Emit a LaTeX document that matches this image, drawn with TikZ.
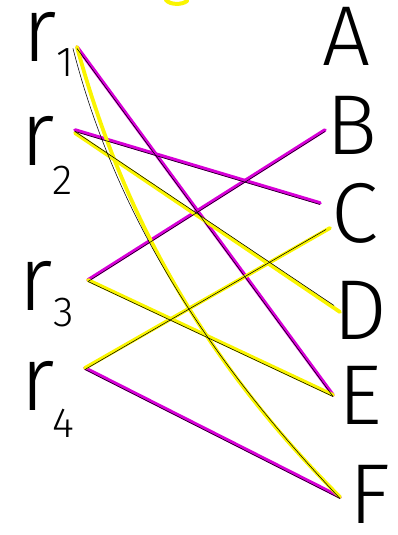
\documentclass[tikz,border=0pt]{standalone}
\usepackage{fontspec}
\usepackage{xcolor}
\usepackage{tikz}
\usetikzlibrary{positioning,calc}
\newfontfamily\handfont{Fira Sans Light}
\definecolor{mag}{RGB}{215,0,215}
\definecolor{yel}{RGB}{250,245,0}
\tikzset{
  lbl/.style={inner sep=0pt,font=\handfont\fontsize{92}{92}\selectfont,anchor=base west,
              text height=46pt,text depth=0pt},
  sublbl/.style={inner sep=0pt,font=\handfont\fontsize{42}{42}\selectfont,anchor=base west,
                 text height=29pt,text depth=0pt},
  caplbl/.style={inner sep=0pt,font=\handfont\fontsize{85}{85}\selectfont,
                 text height=59pt,text depth=0pt},
  magline/.style={mag,line width=3.6pt,line cap=round},
  yelline/.style={yel,line width=3.8pt,line cap=round},
  blkline/.style={black,line width=0.55pt,line cap=round,transform canvas={yshift=-1.5pt}},
}

\begin{document}
\begin{tikzpicture}[x=1pt,y=-1pt]
  \useasboundingbox (0,0) rectangle (397,535);
  \clip (0,0) rectangle (397,535);

  % left labels
  \node[lbl] (r1) at (22,62)  {r};
  \node[lbl] (r2) at (20,165) {r};
  \node[lbl] (r3) at (18,310) {r};
  \node[lbl] (r4) at (20,410) {r};
  \node[sublbl] (s1) at (56,76)  {1};
  \node[sublbl] (s2) at (52,194) {2};
  \node[sublbl] (s3) at (53,326) {3};
  \node[sublbl] (s4) at (52,437) {4};

  % right labels
  \node[caplbl] (A) at (347,36)  {A};
  \node[caplbl] (B) at (352,125) {B};
  \node[caplbl] (C) at (355,213) {C};
  \node[caplbl] (D) at (360,310) {D};
  \node[caplbl] (E) at (360,395) {E};
  \node[caplbl] (F) at (370,494) {F};

  % line ends
  \coordinate (p1) at (77,47);
  \coordinate (p2) at (75,130);
  \coordinate (p3) at (88,280);
  \coordinate (p4) at (85,368);
  \coordinate (qB)  at (325,130);
  \coordinate (qC)  at (320,203);
  \coordinate (qC2) at (330,228);
  \coordinate (qD)  at (340,312);
  \coordinate (qE)  at (333,395);
  \coordinate (qF)  at (340,497);

  % magenta matching
  \draw[magline] (p1) -- (qE);
  \draw[magline] (p2) -- (qC);
  \draw[magline] (p3) -- (qB);
  \draw[magline] (p4) -- (qF);

  % yellow matching
  \draw[yelline] (p1) .. controls (118,197) and (190,347) .. (qF);
  \draw[yelline] ($(p2)+(0,3)$) -- (qD);
  \draw[yelline] (p3) -- (qE);
  \draw[yelline] (p4) -- (qC2);

  % black edges
  \draw[blkline] (p1) -- (qE);
  \draw[blkline] (p2) -- (qC);
  \draw[blkline] (p3) -- (qB);
  \draw[blkline] (p4) -- (qF);
  \draw[blkline] ($(p1)+(-4,0)$) .. controls (112,200) and (196,345) .. (qF);
  \draw[blkline] (p2) -- ($(qD)+(-6,-8)$);
  \draw[blkline] (p3) -- (qE);
  \draw[blkline] (p4) -- ($(qC2)+(-4,0)$);

  % cut-off mark at top
  \draw[yel,line width=4pt,line cap=round] (166,0) .. controls (170,5) and (182,5) .. (187,1);
\end{tikzpicture}
\end{document}
